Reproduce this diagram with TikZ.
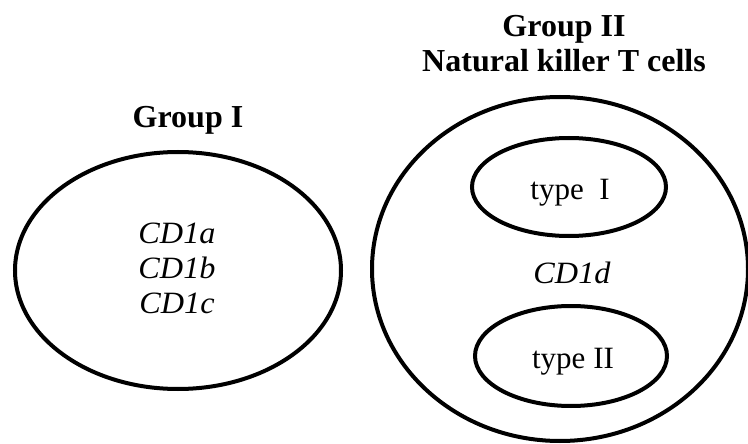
\documentclass[tikz,border=0pt]{standalone}
\usepackage{fontspec}
\setmainfont{Liberation Serif}
\newfontfamily\itwide{Liberation Serif}[FakeStretch=1.04]
\usetikzlibrary{shapes.geometric}
\begin{document}
\begin{tikzpicture}[x=1pt,y=-1pt,
  ring/.style={draw=black,line width=4pt,shape=ellipse,inner sep=0pt},
  lbl/.style={anchor=base,inner sep=0pt,font=\fontsize{31}{34}\selectfont},
  cdl/.style={anchor=base,inner sep=0pt,font=\fontsize{31}{34}\itwide\itshape},
  title/.style={anchor=base,inner sep=0pt,font=\fontsize{32}{34}\selectfont\bfseries}]
\useasboundingbox (0,0) rectangle (748,444);
\begin{scope}
\clip (0,0) rectangle (748,444);
\node[ring,minimum width=326pt,minimum height=237pt] (g1) at (178,270.5) {};
\node[ring,minimum width=376pt,minimum height=344pt] (g2) at (560,269) {};
\node[ring,minimum width=194pt,minimum height=98pt] (t1) at (569,187) {};
\node[ring,minimum width=192pt,minimum height=100pt] (t2) at (571,356) {};
\end{scope}
\node[title] (h1) at (188,128) {Group I};
\node[title] (h2) at (564,37) {Group II};
\node[title] (h3) at (564,72) {Natural killer T cells};
\node[cdl] (a) at (177,243) {CD1a};
\node[cdl] (b) at (177,278) {CD1b};
\node[cdl] (c) at (177,313) {CD1c};
\node[cdl] (d) at (572,283) {CD1d};
\node[lbl] (ty1) at (570,200) {type\ \ I};
\node[lbl] (ty2) at (573,368) {type II};
\end{tikzpicture}
\end{document}
